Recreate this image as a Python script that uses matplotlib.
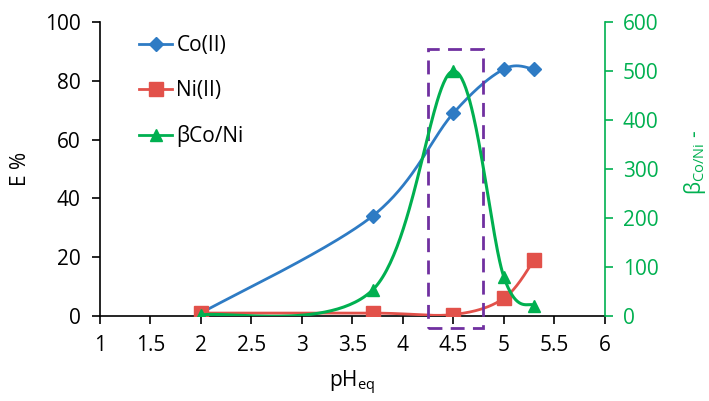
import numpy as np
import matplotlib.pyplot as plt
from matplotlib.lines import Line2D
from matplotlib.patches import Rectangle

plt.rcParams['font.family'] = ['Open Sans', 'DejaVu Sans']

# data
ph = [2.0, 3.7, 4.5, 5.0, 5.3]
co = [1.0, 34.0, 69.0, 84.0, 84.0]
ni = [1.0, 1.0, 0.5, 6.0, 19.0]
beta = [2.0, 53.0, 500.0, 80.0, 21.0]

BLUE = "#2E7BC4"
RED = "#E2514A"
GREEN = "#00B050"
PURPLE = "#7030A0"


def smooth(x, y, n=60):
    """Excel-like smoothed line: cubic Bezier with Catmull-Rom control points."""
    pts = np.column_stack([x, y]).astype(float)
    out = []
    for i in range(len(pts) - 1):
        p0 = pts[i - 1] if i > 0 else pts[i]
        p1, p2 = pts[i], pts[i + 1]
        p3 = pts[i + 2] if i + 2 < len(pts) else pts[i + 1]
        c1 = p1 + (p2 - p0) / 6
        c2 = p2 - (p3 - p1) / 6
        t = np.linspace(0, 1, n)[:, None]
        seg = ((1 - t) ** 3 * p1 + 3 * (1 - t) ** 2 * t * c1
               + 3 * (1 - t) * t ** 2 * c2 + t ** 3 * p2)
        out.append(seg if i == 0 else seg[1:])
    seg = np.vstack(out)
    return seg[:, 0], seg[:, 1]


fig = plt.figure(figsize=(7.09, 4.01), dpi=100)
ax = fig.add_axes([0.141, 0.212, 0.712, 0.733])
ax2 = ax.twinx()

sx, sy = smooth(ph, co)
ax.plot(sx, sy, color=BLUE, lw=2, zorder=3)
ax.plot(ph, co, ls="none", marker="D", ms=7, color=BLUE, zorder=4)

sx, sy = smooth(ph, ni)
ax.plot(sx, sy, color=RED, lw=2, zorder=3)
ax.plot(ph, ni, ls="none", marker="s", ms=10, color=RED, zorder=4)

sx, sy = smooth(ph, beta)
ax2.plot(sx, sy, color=GREEN, lw=2.2, zorder=3)
ax2.plot(ph, beta, ls="none", marker="^", ms=9, color=GREEN, zorder=4)

ax.set_xlim(1, 6)
ax.set_ylim(0, 100)
ax2.set_ylim(0, 600)
ax.set_xticks(np.arange(1, 6.01, 0.5))
ax.set_xticklabels(["1", "1.5", "2", "2.5", "3", "3.5", "4", "4.5", "5", "5.5", "6"])
ax.set_yticks(range(0, 101, 20))
ax2.set_yticks(range(0, 601, 100))

for a in (ax, ax2):
    a.spines["top"].set_visible(False)
ax.spines["right"].set_visible(False)
ax2.spines["left"].set_visible(False)
ax2.spines["bottom"].set_visible(False)
ax2.spines["right"].set_color(GREEN)
ax2.spines["right"].set_linewidth(1.2)
ax.spines["left"].set_linewidth(1.2)
ax.spines["bottom"].set_linewidth(1.2)

ax.tick_params(labelsize=15, length=6, width=1.2, direction="out")
ax.tick_params(axis="x", pad=8)
ax.tick_params(axis="y", pad=8)
ax2.tick_params(labelsize=15, length=6, width=1.2, colors=GREEN, pad=7)

ax.set_ylabel("E %", fontsize=15, labelpad=10)
ax.set_xlabel("pH$_{\\mathregular{eq}}$", fontsize=15, labelpad=9)

fig.text(0.962, 0.595, "β$_{\\mathregular{Co/Ni}}$ -", rotation=90, color=GREEN,
         fontsize=15, ha="left", va="center")

# highlight box around the optimum
ax.add_patch(Rectangle((4.25, -4), 0.54, 95, fill=False, ec=PURPLE, lw=2,
                       ls=(0, (5, 3)), clip_on=False, zorder=5))

handles = [
    Line2D([], [], color=BLUE, lw=2, marker="D", ms=7),
    Line2D([], [], color=RED, lw=2, marker="s", ms=10),
    Line2D([], [], color=GREEN, lw=2, marker="^", ms=9),
]
ax.legend(handles, ["Co(II)", "Ni(II)", "βCo/Ni"], loc="upper left",
          bbox_to_anchor=(0.04, 1.02), frameon=False, fontsize=15,
          labelspacing=1.15, handlelength=1.6, handletextpad=0.2)

fig.savefig("out.png", dpi=100)
